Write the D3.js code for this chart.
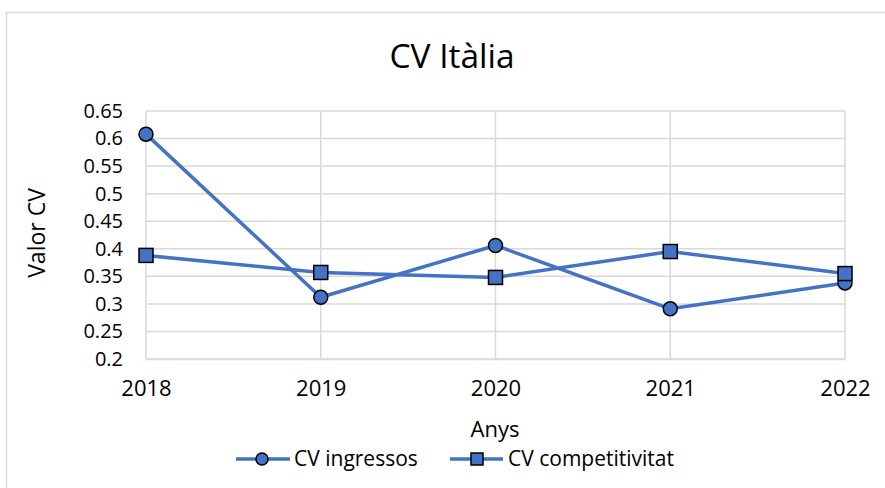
<!DOCTYPE html>
<html><head><meta charset="utf-8">
<script src="https://cdn.jsdelivr.net/npm/d3@7"></script>
<style>body{margin:0;background:#fff}svg{display:block}text{font-family:"Open Sans","Noto Sans",sans-serif;fill:#000}</style>
</head><body>
<script>
const years = ["2018","2019","2020","2021","2022"];
const cvIngressos = [0.608, 0.312, 0.406, 0.291, 0.338];
const cvCompetitivitat = [0.388, 0.357, 0.348, 0.395, 0.355];
const yTicks = [0.2,0.25,0.3,0.35,0.4,0.45,0.5,0.55,0.6,0.65];
const seriesNames = ["CV ingressos","CV competitivitat"];

const W=885,H=488;
const svg=d3.select("body").append("svg").attr("width",W).attr("height",H);
svg.append("rect").attr("x",6.5).attr("y",12.5).attr("width",W).attr("height",H).attr("fill","#fff").attr("stroke","#d9d9d9").attr("stroke-width",1.5);

const x=d3.scalePoint().domain(years).range([146,845]);
const y=d3.scaleLinear().domain([0.2,0.65]).range([359,111]);
const blue="#4472C4";

// grid
svg.append("g").selectAll("line").data(yTicks).join("line")
  .attr("x1",146).attr("x2",845).attr("y1",d=>y(d)).attr("y2",d=>y(d))
  .attr("stroke","#d9d9d9").attr("stroke-width",1.5);
svg.append("g").selectAll("line").data(years).join("line")
  .attr("x1",d=>x(d)).attr("x2",d=>x(d)).attr("y1",111).attr("y2",359)
  .attr("stroke","#d9d9d9").attr("stroke-width",1.5);

// axes
const ya=svg.append("g").attr("transform","translate(146,0)")
  .call(d3.axisLeft(y).tickValues(yTicks).tickSize(0).tickPadding(23).tickFormat(d=>String(+d.toFixed(2))));
ya.select(".domain").remove();
ya.attr("font-size",20).attr("font-family","'Open Sans',sans-serif");
ya.selectAll("text").attr("fill","#000");
const xa=svg.append("g").attr("transform","translate(0,359)")
  .call(d3.axisBottom(x).tickSize(0).tickPadding(21));
xa.select(".domain").attr("stroke","#d9d9d9").attr("stroke-width",1.5);
xa.attr("font-size",22).attr("font-family","'Open Sans',sans-serif");
xa.selectAll("text").attr("fill","#000");

// lines
const line=d3.line().x((d,i)=>x(years[i])).y(d=>y(d));
[cvIngressos,cvCompetitivitat].forEach(s=>{
  svg.append("path").datum(s).attr("d",line).attr("fill","none").attr("stroke",blue).attr("stroke-width",3.5).attr("stroke-linejoin","round");
});
svg.append("g").selectAll("circle").data(cvIngressos).join("circle")
  .attr("cx",(d,i)=>x(years[i])).attr("cy",d=>y(d)).attr("r",7)
  .attr("fill",blue).attr("stroke","#000").attr("stroke-width",1.5);
svg.append("g").selectAll("rect").data(cvCompetitivitat).join("rect")
  .attr("x",(d,i)=>x(years[i])-7).attr("y",d=>y(d)-7).attr("width",14).attr("height",14)
  .attr("fill",blue).attr("stroke","#000").attr("stroke-width",1.5);

// titles
svg.append("text").attr("x",452).attr("y",68).attr("text-anchor","middle").attr("font-size",33.5).text("CV Itàlia");
svg.append("text").attr("transform","translate(36,233) rotate(-90)").attr("text-anchor","middle").attr("dominant-baseline","central").attr("font-size",23).text("Valor CV");
svg.append("text").attr("x",495).attr("y",437).attr("text-anchor","middle").attr("font-size",22).text("Anys");

// legend
const leg=[{x0:236,x1:290,cx:262,tx:294,shape:"circle"},{x0:450,x1:503,cx:477,tx:508,shape:"rect"}];
leg.forEach((l,i)=>{
  const ly=459;
  svg.append("line").attr("x1",l.x0).attr("x2",l.x1).attr("y1",ly).attr("y2",ly).attr("stroke",blue).attr("stroke-width",3.5);
  if(l.shape==="circle") svg.append("circle").attr("cx",l.cx).attr("cy",ly).attr("r",6).attr("fill",blue).attr("stroke","#000").attr("stroke-width",1.5);
  else svg.append("rect").attr("x",l.cx-6).attr("y",ly-6).attr("width",12).attr("height",12).attr("fill",blue).attr("stroke","#000").attr("stroke-width",1.5);
  svg.append("text").attr("x",l.tx).attr("y",466).attr("font-size",21).text(seriesNames[i]);
});
</script>
</body></html>
